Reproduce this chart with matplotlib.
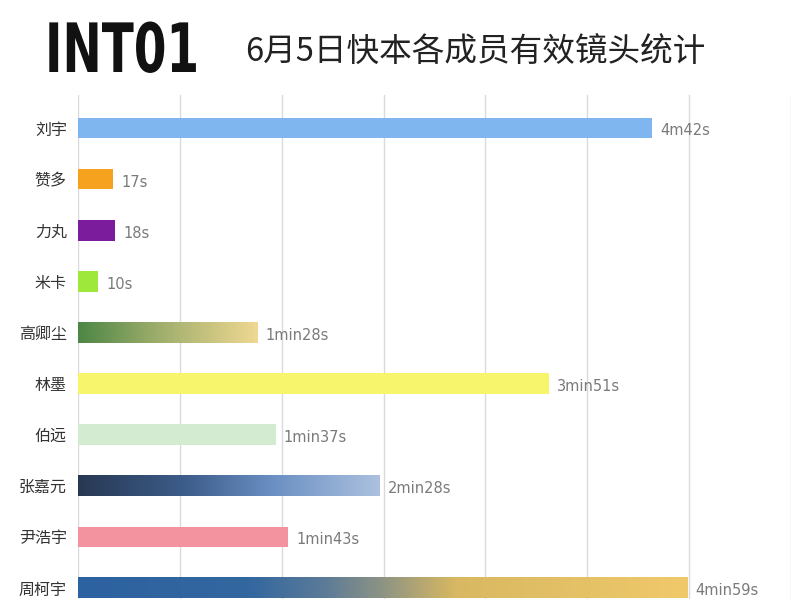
import matplotlib
matplotlib.use("Agg")
import matplotlib.pyplot as plt
from matplotlib.colors import LinearSegmentedColormap
from matplotlib.patches import Rectangle
from matplotlib.patheffects import AbstractPathEffect
from matplotlib.transforms import Affine2D
import numpy as np

plt.rcParams['font.family'] = ['Noto Sans CJK SC', 'DejaVu Sans']

# ---------------- data ----------------
names = ["刘宇", "赞多", "力丸", "米卡", "高卿尘", "林墨", "伯远", "张嘉元", "尹浩宇", "周柯宇"]
seconds = [282, 17, 18, 10, 88, 231, 97, 148, 103, 299]
value_labels = ["4m42s", "17s", "18s", "10s", "1min28s", "3min51s", "1min37s",
                "2min28s", "1min43s", "4min59s"]
bar_colors = ["#80b6f0", "#f7a21e", "#7a1c9c", "#9ee83c", None, "#f7f56c",
              "#d3ebd1", None, "#f3939f", None]
gradients = {
    4: [(0.0, "#4d8646"), (0.45, "#9fae6c"), (1.0, "#efd892")],
    7: [(0.0, "#283853"), (0.35, "#3c5c89"), (0.65, "#6b90c4"), (1.0, "#acc1df")],
    9: [(0.0, "#2c62a0"), (0.28, "#33679f"), (0.4, "#5a7a98"), (0.5, "#8e9484"),
        (0.62, "#d8b862"), (1.0, "#f0c96a")],
}
x_ticks = [0, 50, 100, 150, 200, 250, 300, 350]
title = "6月5日快本各成员有效镜头统计"
logo = "INT01"


class XScale(AbstractPathEffect):
    """Narrow the glyphs horizontally around a fixed display x."""
    def __init__(self, sx, x0):
        super().__init__()
        self.sx, self.x0 = sx, x0

    def draw_path(self, renderer, gc, tpath, affine, rgbFace=None):
        t = affine + Affine2D().translate(-self.x0, 0).scale(self.sx, 1).translate(self.x0, 0)
        renderer.draw_path(gc, tpath, t, rgbFace)


# ---------------- figure ----------------
W, H = 809, 612
CUT = 599
fig = plt.figure(figsize=(W / 100, H / 100), dpi=100)
fig.patch.set_facecolor("white")

ax_left, ax_right = 78 / W, 791 / W
ax_top, ax_bot = 1 - 95 / H, 1 - CUT / H
ax = fig.add_axes([ax_left, ax_bot, ax_right - ax_left, ax_top - ax_bot])

bh = 0.40
ypos = np.arange(len(names))
for i, (v, c) in enumerate(zip(seconds, bar_colors)):
    if c is not None:
        ax.barh(i, v, height=bh, color=c, zorder=3)
    else:
        cmap = LinearSegmentedColormap.from_list("g%d" % i, gradients[i])
        grad = np.linspace(0, 1, 256).reshape(1, -1)
        ax.imshow(grad, extent=[0, v, i + bh / 2, i - bh / 2], aspect="auto",
                  cmap=cmap, zorder=3, interpolation="bicubic")

for i, (v, lab) in enumerate(zip(seconds, value_labels)):
    ax.annotate(lab, (v, i), xytext=(6, -2), textcoords="offset points",
                ha="left", va="center", fontsize=10.5, color="#7a7a7a",
                family=["DejaVu Sans"], clip_on=False, zorder=4)

ax.set_xlim(0, 350)
ax.set_ylim((CUT - 128) / 51.1, -0.65)
ax.set_xticks(x_ticks)
ax.xaxis.grid(True, color="#dadada", linewidth=1, zorder=0)
ax.set_axisbelow(True)
ax.tick_params(axis="x", length=0, labelbottom=False)
ax.set_yticks(ypos)
ax.set_yticklabels(names, fontsize=11.5, color="#333333")
ax.tick_params(axis="y", length=0, pad=8)
for s in ax.spines.values():
    s.set_visible(False)

# cropped bottom of the original picture
fig.add_artist(Rectangle((0, 0), 1, 1 - CUT / H, transform=fig.transFigure,
                         facecolor="white", edgecolor="none", zorder=20))

# ---------------- header ----------------
fig.text(45 / W, 1 - 72 / H, logo, family=["DejaVu Sans"], fontweight="bold",
         fontsize=49, color="#111111", ha="left", va="baseline",
         path_effects=[XScale(0.69, 45)])
fig.text(245 / W, 1 - 53 / H, title, fontsize=23.5, color="#222222",
         ha="left", va="center")

fig.savefig("out.png", dpi=100, facecolor="white")
